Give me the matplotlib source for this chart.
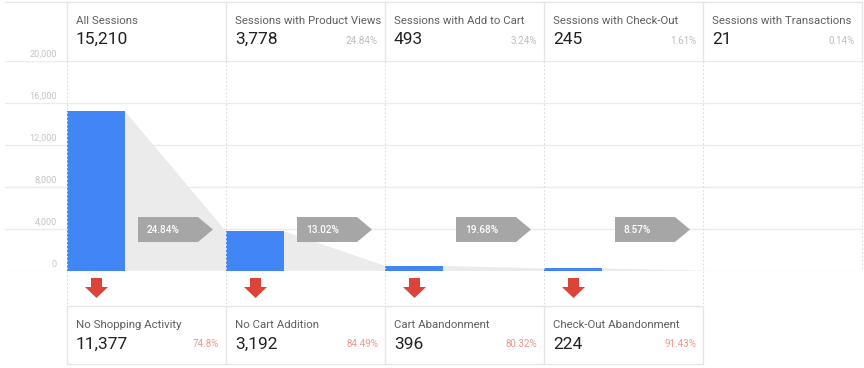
import matplotlib
matplotlib.use("Agg")
import matplotlib.pyplot as plt
from matplotlib.patches import Polygon, Rectangle
from matplotlib.lines import Line2D

# ---------------- data ----------------
stages = ["All Sessions", "Sessions with Product Views", "Sessions with Add to Cart",
          "Sessions with Check-Out", "Sessions with Transactions"]
sessions = [15210, 3778, 493, 245, 21]
stage_share = ["", "24.84%", "3.24%", "1.61%", "0.14%"]
step_rates = ["24.84%", "13.02%", "19.68%", "8.57%"]
dropoff_labels = ["No Shopping Activity", "No Cart Addition", "Cart Abandonment",
                  "Check-Out Abandonment"]
dropoff_counts = [11377, 3192, 396, 224]
dropoff_share = ["74.8%", "84.49%", "80.32%", "91.43%"]
y_ticks = [0, 4000, 8000, 12000, 16000, 20000]

# ---------------- style ----------------
plt.rcParams["font.family"] = ["Roboto", "DejaVu Sans"]
W, H = 864, 368
BLUE = "#4285f4"
FUNNEL = "#ebebeb"
GRID = "#ebebeb"
SEP = "#e6e6e6"
ARROWBOX = "#a6a6a6"
RED = "#db4437"
LABEL = "#5f5f5f"
NUM = "#212121"
PCT = "#bdbdbd"
PCT_RED = "#f0958c"

COL_LEFT = 67.0
COL_W = 159.0


def fx(x):
    return x / W


def fy(y):
    return 1 - y / H


def col_x(i, off):
    return COL_LEFT + COL_W * i + off


fig = plt.figure(figsize=(W / 100, H / 100), dpi=100)
fig.patch.set_facecolor("white")

# chart axes: x in column units, y in sessions
ax_l, ax_r, ax_t, ax_b = 5, 862, 61, 271
ax = fig.add_axes([fx(ax_l), fy(ax_b), (ax_r - ax_l) / W, (ax_b - ax_t) / H])
ax.set_xlim((ax_l - COL_LEFT) / COL_W, (ax_r - COL_LEFT) / COL_W)
ax.set_ylim(0, 20000)
ax.axis("off")

for t in y_ticks:
    ax.axhline(t, color=GRID, lw=1, zorder=0)
    ax.annotate(f"{t:,}", xy=(0, t), xycoords=("axes fraction", "data"),
                xytext=(57 - ax_l, 2), textcoords="offset pixels",
                ha="right", va="bottom", fontsize=6.6, color="#c4c4c4")

bw = 58 / COL_W
n = len(sessions)
for i in range(n - 1):
    poly = Polygon([(i + bw, 0), (i + bw, sessions[i]), (i + 1, sessions[i + 1]), (i + 1, 0)],
                   closed=True, facecolor=FUNNEL, edgecolor="none", zorder=1)
    ax.add_patch(poly)

ax.bar(range(n), sessions, width=bw, align="edge", color=BLUE, zorder=3)

# step conversion arrow boxes
for i, r in enumerate(step_rates):
    x0 = i + 71 / COL_W
    x1 = i + 131 / COL_W
    x2 = i + 146 / COL_W
    yc, hh = 3950, 1190
    box = Polygon([(x0, yc - hh), (x1, yc - hh), (x2, yc), (x1, yc + hh), (x0, yc + hh)],
                  closed=True, facecolor=ARROWBOX, edgecolor="none", zorder=4)
    ax.add_patch(box)
    ax.text(i + 80 / COL_W, yc, r, ha="left", va="center", fontsize=7.2,
            color="white", fontweight="medium", zorder=5)


def fline(x1, y1, x2, y2, **kw):
    fig.add_artist(Line2D([fx(x1), fx(x2)], [fy(y1), fy(y2)], transform=fig.transFigure, **kw))


# header frame
fline(5, 2, 862, 2, color=SEP, lw=1)
for i in range(n + 1):
    x = col_x(i, 0)
    fline(x, 2, x, 61, color=SEP, lw=1)
    yb = 306 if i < n else 271
    fline(x, 61, x, yb, color="#dcdcdc", lw=0.8, linestyle=(0, (1.5, 2)))

# header texts
for i in range(n):
    fig.text(fx(col_x(i, 9)), fy(24), stages[i], ha="left", va="baseline",
             fontsize=8.2, color=LABEL)
    fig.text(fx(col_x(i, 9)), fy(43.5), f"{sessions[i]:,}", ha="left", va="baseline",
             fontsize=12.5, color=NUM)
    if stage_share[i]:
        fig.text(fx(col_x(i + 1, -7)), fy(43.5), stage_share[i], ha="right",
                 va="baseline", fontsize=7, color=PCT)

# bottom drop-off boxes
m = len(dropoff_counts)
fig.add_artist(Rectangle((fx(col_x(0, 0)), fy(364)), COL_W * m / W, (364 - 306) / H,
                         transform=fig.transFigure, facecolor="none", edgecolor=SEP, lw=1))
for i in range(1, m):
    x = col_x(i, 0)
    fline(x, 306, x, 364, color=SEP, lw=1)

for i in range(m):
    cx = col_x(i, 29.5)
    arrow = Polygon([(fx(cx - 5.5), fy(278)), (fx(cx + 5.5), fy(278)), (fx(cx + 5.5), fy(287)),
                     (fx(cx + 11.5), fy(287)), (fx(cx), fy(298)), (fx(cx - 11.5), fy(287)),
                     (fx(cx - 5.5), fy(287))],
                    closed=True, transform=fig.transFigure, facecolor=RED, edgecolor="none")
    fig.add_artist(arrow)
    fig.text(fx(col_x(i, 9)), fy(328), dropoff_labels[i], ha="left", va="baseline",
             fontsize=8.2, color=LABEL)
    fig.text(fx(col_x(i, 9)), fy(349), f"{dropoff_counts[i]:,}", ha="left", va="baseline",
             fontsize=12.5, color=NUM)
    fig.text(fx(col_x(i + 1, -7)), fy(347), dropoff_share[i], ha="right", va="baseline",
             fontsize=7, color=PCT_RED)

fig.savefig("out.png", dpi=100, facecolor="white")
